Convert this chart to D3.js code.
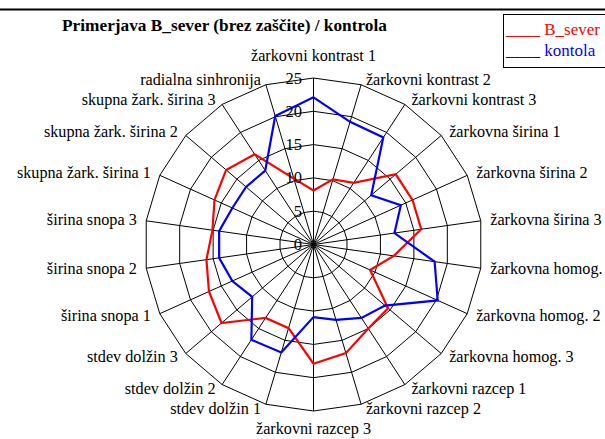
<!DOCTYPE html>
<html><head><meta charset="utf-8">
<script src="https://cdn.jsdelivr.net/npm/d3@7"></script>
<style>
html,body{margin:0;padding:0;background:#fff;}
svg{display:block;}
</style></head>
<body>
<svg id="chart" width="605" height="439"></svg>
<script>
const categories = ["žarkovni kontrast 1","žarkovni kontrast 2","žarkovni kontrast 3","žarkovna širina 1","žarkovna širina 2","žarkovna širina 3","žarkovna homog.","žarkovna homog. 2","žarkovna homog. 3","žarkovni razcep 1","žarkovni razcep 2","žarkovni razcep 3","stdev dolžin 1","stdev dolžin 2","stdev dolžin 3","širina snopa 1","širina snopa 2","širina snopa 3","skupna žark. širina 1","skupna žark. širina 2","skupna žark. širina 3","radialna sinhronija"];
const bSever = [8.1,10.2,11.0,16.1,16.1,16.1,12.0,9.2,14.6,15.0,17.0,17.9,13.1,13.1,18.0,17.0,16.0,15.1,16.1,17.1,16.1,10.3];
const kontola = [22.1,19.2,19.1,11.3,14.2,12.1,18.1,20.2,14.0,13.1,11.8,10.9,16.9,17.0,12.0,13.2,14.1,14.1,13.2,13.2,13.2,20.1];
const seriesNames = ["B_sever","kontola"];
const seriesColors = ["#ff0000","#0000ff"];
const ticks = [0,5,10,15,20,25];
const title = "Primerjava B_sever (brez zaščite) / kontrola";

const FONT = "'Liberation Serif', 'Times New Roman', Times, serif";
const svg = d3.select("#chart").attr("font-family", FONT);
const cx = 313.5, cy = 244.5, rx = 169, ry = 166.5;
const n = categories.length;
const r = d3.scaleLinear().domain([0,25]).range([0,1]);
const ang = d3.scaleLinear().domain([0,n]).range([0,2*Math.PI]);
const px = (i,v) => cx + rx*r(v)*Math.sin(ang(i));
const py = (i,v) => cy - ry*r(v)*Math.cos(ang(i));

svg.append("line").attr("x1",0).attr("x2",605).attr("y1",9.5).attr("y2",9.5).attr("stroke","#000").attr("stroke-width",2);

const g = svg.append("g");
ticks.filter(t=>t>0).forEach(t=>{
  const pts = d3.range(n).map(i=>[px(i,t),py(i,t)]);
  g.append("path").attr("d", d3.line().curve(d3.curveLinearClosed)(pts))
   .attr("fill","none").attr("stroke","#000").attr("stroke-width",1);
});
d3.range(n).forEach(i=>{
  g.append("line").attr("x1",cx).attr("y1",cy).attr("x2",px(i,25)).attr("y2",py(i,25))
   .attr("stroke","#000").attr("stroke-width",1);
});

[bSever,kontola].forEach((s,k)=>{
  const line = d3.line().x((d,i)=>px(i,d)).y((d,i)=>py(i,d)).curve(d3.curveLinearClosed);
  svg.append("path").attr("d",line(s)).attr("fill","none")
    .attr("stroke",seriesColors[k]).attr("stroke-width",2.2).attr("stroke-linejoin","miter");
});

ticks.forEach(t=>{
  svg.append("text").attr("x",302).attr("y",py(0,t)+5.5).attr("text-anchor","end")
    .attr("font-family",FONT).attr("font-size","16.5px").attr("fill","#000").text(t);
});

categories.forEach((c,i)=>{
  const a = ang(i), s = Math.sin(a), co = Math.cos(a);
  const vx = px(i,25), vy = py(i,25);
  let anchor, x, y;
  if (Math.abs(s) < 0.1) {
    anchor = "middle"; x = vx;
    y = co > 0 ? vy - 17 : vy + 23;
  } else {
    anchor = s > 0 ? "start" : "end";
    x = vx + Math.sign(s)*(3 + 6.5*Math.abs(s));
    y = vy - 5*co + 5;
  }
  svg.append("text").attr("x",x).attr("y",y).attr("text-anchor",anchor)
    .attr("font-family",FONT).attr("font-size","16.2px").attr("fill","#000").text(c);
});

svg.append("text").attr("x",224.5).attr("y",30.5).attr("text-anchor","middle")
  .attr("font-family",FONT).attr("font-size","17.3px").attr("font-weight","bold").attr("fill","#000").text(title);

svg.append("rect").attr("x",503.5).attr("y",14.5).attr("width",110).attr("height",53)
  .attr("fill","#fff").attr("stroke","#000").attr("stroke-width",1);
seriesNames.forEach((nm,k)=>{
  svg.append("text").attr("x",506).attr("y",34.5+k*21).attr("font-family",FONT).attr("font-size","17px")
    .attr("fill",seriesColors[k]).text("____ "+nm);
});
</script>
</body></html>
